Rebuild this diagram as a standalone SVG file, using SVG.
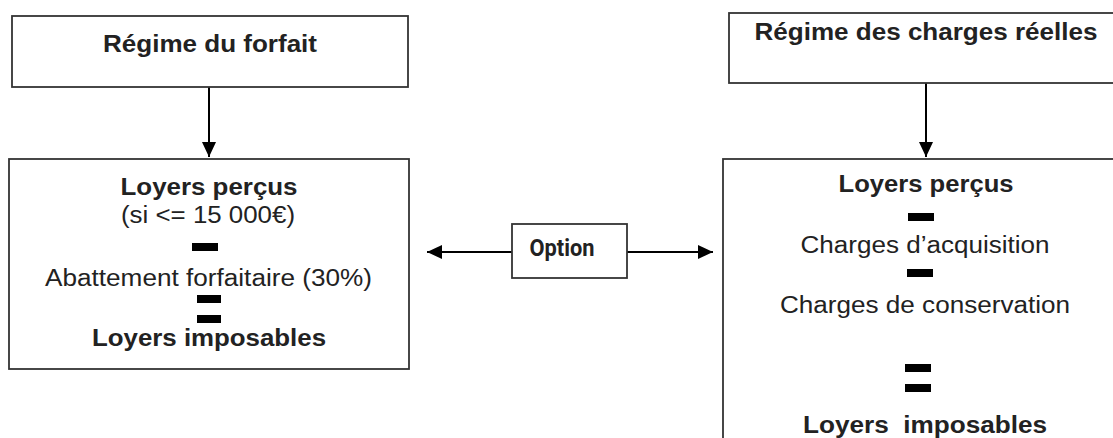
<svg xmlns="http://www.w3.org/2000/svg" width="1113" height="438" viewBox="0 0 1113 438">
<defs>
<style>
.box{fill:#fff;stroke:#333;stroke-width:1.8}
.t{font-family:"Liberation Sans",Arial,sans-serif;font-size:23.5px;fill:#222;text-anchor:middle}
.b{font-weight:bold}
.opt{font-family:"Roboto","Liberation Sans",sans-serif;font-weight:bold;font-size:23px;fill:#222;text-anchor:middle}
.bar{fill:#000}
.conn{stroke:#000;stroke-width:2;fill:none}
</style>
<marker id="ah" viewBox="0 0 15 14" refX="15" refY="7" markerWidth="15" markerHeight="14" markerUnits="userSpaceOnUse" orient="auto">
<path d="M0,0 L15,7 L0,14 Z" fill="#000"/>
</marker>
</defs>
<rect width="1113" height="438" fill="#fff"/>
<g id="connectors">
<line class="conn" x1="209" y1="87" x2="209" y2="157" marker-end="url(#ah)"/>
<line class="conn" x1="926" y1="83" x2="926" y2="157" marker-end="url(#ah)"/>
<line class="conn" x1="512" y1="252" x2="427" y2="252" marker-end="url(#ah)"/>
<line class="conn" x1="627" y1="252" x2="713" y2="252" marker-end="url(#ah)"/>
</g>
<g id="regime-forfait">
<rect class="box" x="12" y="16" width="396" height="71"/>
<text class="t b" x="210" y="52" textLength="214" lengthAdjust="spacingAndGlyphs">Régime du forfait</text>
</g>
<g id="forfait-calc">
<rect class="box" x="9" y="159" width="400" height="210"/>
<text class="t b" x="209" y="195" textLength="177" lengthAdjust="spacingAndGlyphs">Loyers perçus</text>
<text class="t" x="208" y="223" textLength="174" lengthAdjust="spacingAndGlyphs">(si &lt;= 15 000€)</text>
<rect class="bar" x="192" y="243" width="26" height="8"/>
<text class="t" x="208.5" y="286" textLength="327" lengthAdjust="spacingAndGlyphs">Abattement forfaitaire (30%)</text>
<rect class="bar" x="197" y="295" width="24" height="8"/>
<rect class="bar" x="197" y="315" width="24" height="8"/>
<text class="t b" x="209" y="346" textLength="234" lengthAdjust="spacingAndGlyphs">Loyers imposables</text>
</g>
<g id="option">
<rect class="box" x="512" y="224" width="115" height="54"/>
<text class="opt" x="562" y="256" textLength="65" lengthAdjust="spacingAndGlyphs">Option</text>
</g>
<g id="regime-reel">
<rect class="box" x="729" y="13" width="400" height="70"/>
<text class="t b" x="926" y="40" textLength="343" lengthAdjust="spacingAndGlyphs">Régime des charges réelles</text>
</g>
<g id="reel-calc">
<rect class="box" x="723" y="159" width="410" height="300"/>
<text class="t b" x="926" y="192" textLength="175" lengthAdjust="spacingAndGlyphs">Loyers perçus</text>
<rect class="bar" x="908" y="213" width="26" height="8"/>
<text class="t" x="925" y="253" textLength="249" lengthAdjust="spacingAndGlyphs">Charges d’acquisition</text>
<rect class="bar" x="907" y="269" width="26" height="8"/>
<text class="t" x="925" y="313" textLength="290" lengthAdjust="spacingAndGlyphs">Charges de conservation</text>
<rect class="bar" x="905" y="364" width="26" height="8"/>
<rect class="bar" x="905" y="384" width="26" height="8"/>
<text class="t b" x="925" y="433" xml:space="preserve" textLength="244" lengthAdjust="spacingAndGlyphs">Loyers  imposables</text>
</g>
</svg>
